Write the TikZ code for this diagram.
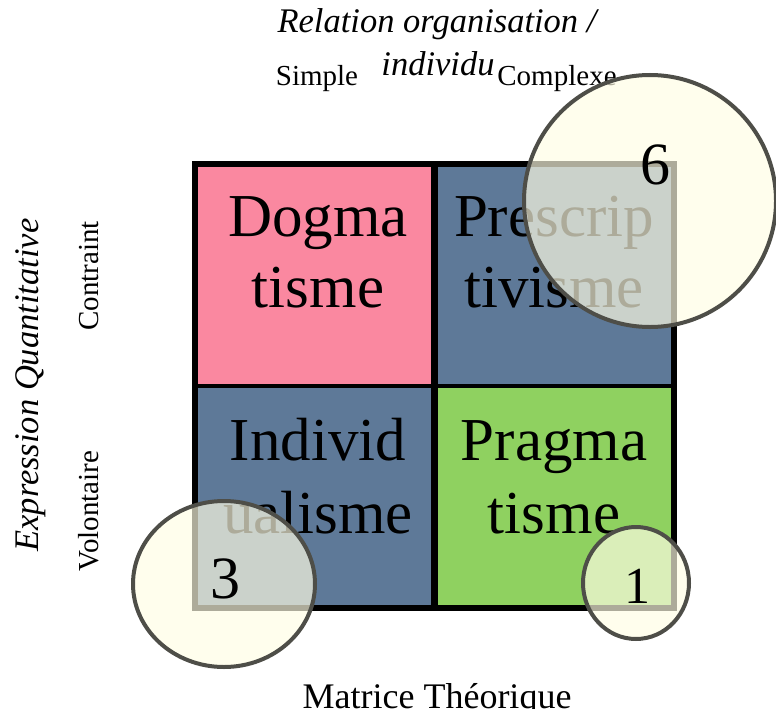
\documentclass[tikz,border=0pt]{standalone}
\usepackage{fontspec}
\setmainfont{Liberation Serif}
\usepackage{tikz}
\usetikzlibrary{shapes.geometric}

\definecolor{dogmapink}{RGB}{250,136,160}
\definecolor{slateblue}{RGB}{94,121,152}
\definecolor{pragmagreen}{RGB}{143,209,96}
\definecolor{bubblefill}{RGB}{255,253,228}
\definecolor{bubbleedge}{RGB}{78,78,72}

\begin{document}
\begin{tikzpicture}[x = 1pt, y = -1pt, line width = 4pt,
                        quad/.style = {rectangle, draw = black, minimum width = 237pt, minimum height = 221pt, inner sep = 0pt},
                        big/.style = {anchor = base, inner sep = 0pt, font = \fontsize{61}{71}\selectfont},
                        axis/.style = {anchor = base, inner sep = 0pt, font = \fontsize{34.5}{40}\selectfont\itshape},
                        pole/.style = {anchor = base, inner sep = 0pt, font = \fontsize{29}{34}\selectfont},
                        bubble/.style = {ellipse, draw = bubbleedge, fill = bubblefill, fill opacity = 0.68, line width = 4pt, inner sep = 0pt},
                        num/.style = {anchor = base, inner sep = 0pt, font = \fontsize{60}{70}\selectfont}]
      \useasboundingbox (0, 0) rectangle (776, 709);
      % quadrants
      \node [quad, fill = dogmapink] (dogma) at (314.5, 275){};
      \node [quad, fill = slateblue] (prescrip) at (554.5, 275){};
      \node [quad, fill = slateblue] (individ) at (314.5, 496){};
      \node [quad, fill = pragmagreen] (pragma) at (554.5, 496){};
      \draw (dogma.north west) rectangle (pragma.south east);
      \node [big] (dogma1) at (318, 236){Dogma};
      \node [big] (dogma2) at (318, 307){tisme};
      \node [big] (prescrip1) at (554, 236){Prescrip};
      \node [big] (prescrip2) at (554, 307){tivisme};
      \node [big] (individ1) at (318, 460){Individ};
      \node [big] (individ2) at (318, 533){ualisme};
      \node [big] (pragma1) at (554, 460){Pragma};
      \node [big] (pragma2) at (554, 533){tisme};
      % axes
      \node [axis] (relation) at (437, 33){Relation organisation /};
      \node [axis] (individu) at (438, 75){individu};
      \node [pole] (simple) at (317, 85){Simple};
      \node [pole] (complexe) at (557, 85){Complexe};
      \node [axis, rotate = 90] (expression) at (38, 385){Expression Quantitative};
      \node [pole, rotate = 90] (contraint) at (98, 276){Contraint};
      \node [pole, rotate = 90] (volontaire) at (98, 511){Volontaire};
      \node [pole, font = \fontsize{36}{40}\selectfont] (matrice) at (437, 708){Matrice Théorique};
      % bubbles
      \node [bubble, minimum width = 252pt, minimum height = 252pt] (b6) at (650, 201){};
      \node [bubble, minimum width = 182pt, minimum height = 166pt] (b3) at (224, 584){};
      \node [bubble, minimum width = 106pt, minimum height = 112pt] (b1) at (636, 583){};
      \node [num] (n6) at (655, 184){6};
      \node [num] (n3) at (225, 598){3};
      \node [num, font = \fontsize{52}{60}\selectfont] (n1) at (637, 603){1};
    \end{tikzpicture}
\end{document}
